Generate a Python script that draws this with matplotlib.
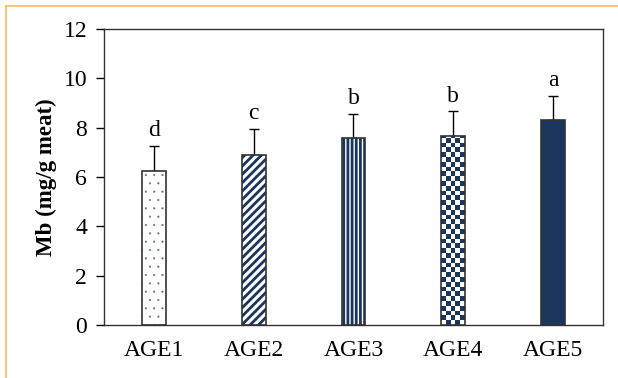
import numpy as np
import matplotlib
matplotlib.use("Agg")
import matplotlib.pyplot as plt
from matplotlib.lines import Line2D
from matplotlib.colors import ListedColormap

plt.rcParams["font.family"] = ["Liberation Serif", "DejaVu Serif"]

groups = ["AGE1", "AGE2", "AGE3", "AGE4", "AGE5"]
mb = [6.25, 6.9, 7.58, 7.66, 8.3]
sd = [1.0, 1.05, 0.98, 1.0, 0.98]
letters = ["d", "c", "b", "b", "a"]

navy = "#1b365d"
edge = "#333333"
hatches = ["", "////", "||||", "", ""]

fig = plt.figure(figsize=(6.18, 3.78), dpi=100)
ax = fig.add_axes([0.168, 0.14, 0.808, 0.783])

x = np.arange(len(groups))
W = 0.24

ax.errorbar(x, mb, yerr=[np.zeros(len(sd)), sd], fmt="none", ecolor="black",
            elinewidth=1.0, capsize=3.5, capthick=1.0, zorder=1)

# white base under every bar
ax.bar(x, mb, width=W, color="white", linewidth=0, zorder=2)

# sparse fine dots for the first bar
plt.rcParams["hatch.linewidth"] = 0.3
ax.bar(x[:1], mb[:1], width=W, color="none", edgecolor="#5a6f8f",
       linewidth=0, hatch="..", zorder=3)

# navy hatching for the rest
plt.rcParams["hatch.linewidth"] = 2.0
fills = ax.bar(x, mb, width=W, color="none", edgecolor=navy, linewidth=0,
               zorder=3)
for patch, h in zip(fills, hatches):
    patch.set_hatch(h)
fills[4].set_facecolor(navy)
bars = ax.bar(x, mb, width=W, color="none", edgecolor=edge, linewidth=1.2,
              zorder=4)

# checkerboard for the fourth bar, clipped to the bar outline
b = bars[3]
x0, w, h = b.get_x(), b.get_width(), b.get_height()
nx = 5
cell_y = 4.8 / 24.67  # about 4.8 px per square
ny = int(np.ceil(h / cell_y))
board = (np.add.outer(np.arange(ny), np.arange(nx)) % 2).astype(float)
im = ax.imshow(board, cmap=ListedColormap(["white", navy]),
               extent=[x0, x0 + w, 0, ny * cell_y], origin="lower",
               interpolation="nearest", aspect="auto", zorder=3)
im.set_clip_path(b)

for xi, m, s, lab in zip(x, mb, sd, letters):
    ax.text(xi, m + s + 0.2, lab, ha="center", va="bottom", fontsize=17)

ax.set_xlim(-0.5, 4.5)
ax.set_ylim(0, 12)
ax.set_yticks(range(0, 13, 2))
ax.set_xticks(x)
ax.set_xticklabels(groups)
ax.tick_params(axis="y", direction="out", length=6, width=1.0, labelsize=17,
               pad=6)
ax.tick_params(axis="x", length=0, labelsize=17, pad=11)
ax.set_ylabel("Mb (mg/g meat)", fontsize=16.5, fontweight="bold", labelpad=5)
for sp in ax.spines.values():
    sp.set_linewidth(1.0)
    sp.set_color(edge)

# orange frame along the top and left edges
fig.add_artist(Line2D([0.0097, 1.0], [0.984, 0.984], color="#f5c05a", lw=1.2))
fig.add_artist(Line2D([0.0097, 0.0097], [0.0, 0.984], color="#f5c05a", lw=1.2))

fig.savefig("out.png", dpi=100)
